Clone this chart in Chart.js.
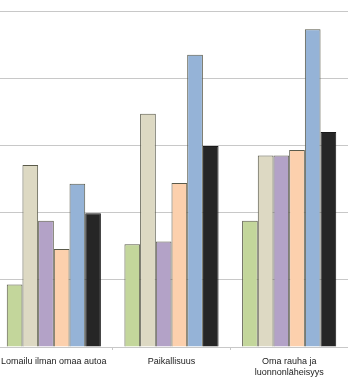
<!DOCTYPE html>
<html>
<head>
<meta charset="utf-8">
<script src="https://cdn.jsdelivr.net/npm/chart.js@4/dist/chart.umd.min.js"></script>
<style>
  body { margin: 0; background: #fff; overflow: hidden; }
  #wrap { position: absolute; left: -5px; top: 0; width: 353px; height: 384px; }
</style>
</head>
<body>
<div id="wrap"><canvas id="chart"></canvas></div>
<script>
// categories
const categories = ["Lomailu ilman omaa autoa", "Paikallisuus", ["Oma rauha ja", "luonnonläheisyys"]];

// series values
const series1 = [0.93, 1.53, 1.88];
const series2 = [2.71, 3.47, 2.85];
const series3 = [1.88, 1.57, 2.85];
const series4 = [1.46, 2.44, 2.93];
const series5 = [2.43, 4.35, 4.73];
const series6 = [1.99, 2.99, 3.20];

// colours
const fills = ["#c3d69b", "#ddd9c3", "#b3a2c7", "#fcd0ad", "#95b3d7", "#262626"];
const allSeries = [series1, series2, series3, series4, series5, series6];

let datasets = [];
for (let i = 0; i < allSeries.length; i++) {
  datasets.push({
    label: "Sarja " + (i + 1),
    data: allSeries[i],
    backgroundColor: fills[i],
    borderColor: i === 5 ? "#1a1a1a" : "#5a5a4a",
    borderWidth: 1,
    categoryPercentage: 0.8,
    barPercentage: 1.0,
  });
}

let ctx = document.getElementById("chart");
new Chart(ctx, {
  type: "bar",
  data: { labels: categories, datasets: datasets },
  options: {
    responsive: true,
    maintainAspectRatio: false,
    animation: false,
    layout: { padding: { top: 11, left: 0, right: 0, bottom: 0 } },
    plugins: { legend: { display: false }, tooltip: { enabled: false } },
    scales: {
      x: {
        grid: { drawOnChartArea: false, drawTicks: true, tickLength: 3, color: "#c8c8c8" },
        border: { color: "#c8c8c8" },
        ticks: { color: "#222", padding: 6, font: { family: "Liberation Sans, Arial", size: 9 }, maxRotation: 0 },
        afterFit: function (scale) { scale.height = 37; },
      },
      y: {
        min: 0,
        max: 5,
        grid: { color: "#c8c8c8", drawTicks: false },
        border: { display: false },
        ticks: { display: false, stepSize: 1 },
        afterFit: function (scale) { scale.width = 0; },
      },
    },
  },
});
</script>
</body>
</html>
